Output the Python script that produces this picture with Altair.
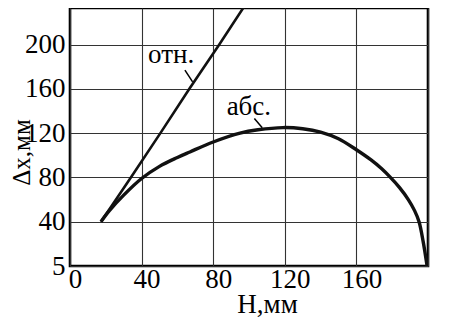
import altair as alt
import pandas as pd

# Curve "абс." (absolute)
h_abs = [17.3, 22, 30, 40, 50, 60, 67, 80, 95, 105, 119, 130, 140, 150, 160,
         168, 174, 179, 184, 189, 192.5, 195, 197.3, 199.5]
dx_abs = [40, 50, 64, 79, 90, 98, 103, 112, 120, 123, 125, 124, 121, 115, 105,
          96, 88, 80, 71, 60, 50, 40, 22, 0]

# Curve "отн." (relative)
h_rel = [17.3, 34, 50.5, 66.7, 83.4, 99.6]
dx_rel = [40, 80, 120, 160, 200, 240]

x_ticks = [0, 40, 80, 120, 160, 200]
y_ticks = [0, 40, 80, 120, 160, 200]

# Annotation labels and leader lines (data coordinates)
ann_text = ["отн.", "абс."]
ann_x = [43.6, 87.5]
ann_y = [183.0, 136.3]
lead_x1 = [64.2, 103.0]
lead_y1 = [176.9, 133.3]
lead_x2 = [68.5, 107.4]
lead_y2 = [166.3, 124.8]

FONT = "Liberation Serif, DejaVu Serif, Times New Roman, serif"

abs_df = pd.DataFrame({"H": h_abs, "dX": dx_abs})
rel_df = pd.DataFrame({"H": h_rel, "dX": dx_rel})
ann_df = pd.DataFrame({"t": ann_text, "x": ann_x, "y": ann_y})
lead_df = pd.DataFrame({"x": lead_x1, "y": lead_y1, "x2": lead_x2, "y2": lead_y2})

xscale = alt.Scale(domain=[0, 200], nice=False, zero=False)
yscale = alt.Scale(domain=[0, 233], nice=False, zero=False)

xaxis = alt.Axis(
    values=x_ticks, grid=True, gridColor="#333333", gridWidth=1.1, gridOpacity=1,
    domain=False, ticks=False, labelFont=FONT, labelFontSize=27, labelColor="black",
    labelPadding=0, labelOffset=5, labelFlush=False,
    labelExpr="datum.value == 200 ? '' : datum.label",
    title="Н,мм", titleFont=FONT, titleFontSize=27, titleFontWeight="normal",
    titleColor="black", titleX=197, titleY=46, titleBaseline="alphabetic",
    titleAlign="center",
)
yaxis = alt.Axis(
    values=y_ticks, grid=True, gridColor="#333333", gridWidth=1.1, gridOpacity=1,
    domain=False, ticks=False, labelFont=FONT, labelFontSize=27, labelColor="black",
    labelPadding=5, labelFlush=False,
    labelExpr="datum.value == 0 ? '5' : datum.label",
    title="Δx,мм", titleFont=FONT, titleFontSize=25, titleFontWeight="normal",
    titleColor="black", titleX=-41, titleY=144, titleBaseline="alphabetic",
    titleAlign="center", titleAngle=270,
)

abs_line = alt.Chart(abs_df).mark_line(
    color="#111111", strokeWidth=3.4, interpolate="catmull-rom", clip=True
).encode(
    x=alt.X("H:Q", scale=xscale, axis=xaxis),
    y=alt.Y("dX:Q", scale=yscale, axis=yaxis),
)

rel_line = alt.Chart(rel_df).mark_line(
    color="#111111", strokeWidth=2.6, clip=True
).encode(
    x=alt.X("H:Q", scale=xscale),
    y=alt.Y("dX:Q", scale=yscale),
)

labels = alt.Chart(ann_df).mark_text(
    font=FONT, fontSize=27, align="left", baseline="alphabetic", color="black"
).encode(
    x=alt.X("x:Q", scale=xscale),
    y=alt.Y("y:Q", scale=yscale),
    text="t:N",
)

leaders = alt.Chart(lead_df).mark_rule(color="black", strokeWidth=1.5).encode(
    x=alt.X("x:Q", scale=xscale),
    y=alt.Y("y:Q", scale=yscale),
    x2="x2:Q",
    y2="y2:Q",
)

chart = (
    alt.layer(abs_line, rel_line, leaders, labels)
    .properties(
        width=358, height=258,
        autosize=alt.AutoSizeParams(type="none"),
        padding={"left": 62, "top": 0, "right": 14, "bottom": 62},
        background="white",
    )
    .configure_view(stroke="black", strokeWidth=2.6)
)

chart.save("out.html", embed_options={"renderer": "svg", "actions": False})
